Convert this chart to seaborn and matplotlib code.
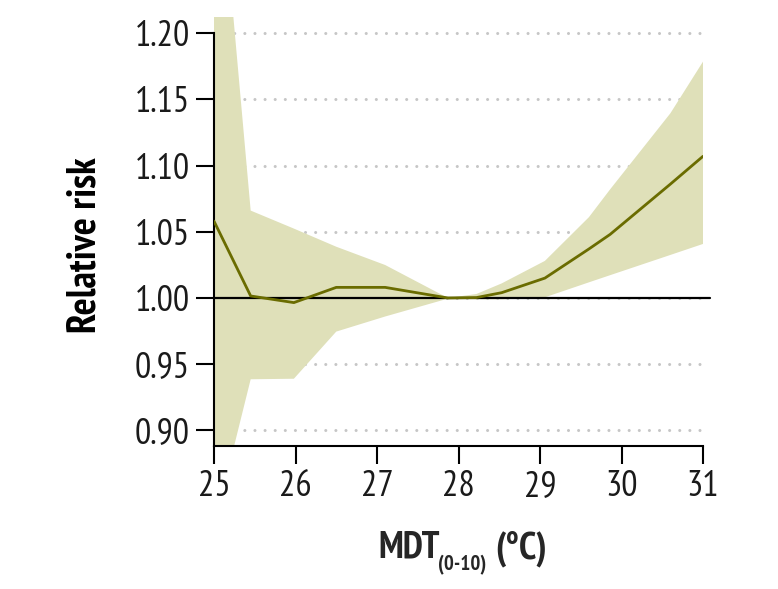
import seaborn as sns
import matplotlib.pyplot as plt
import pandas as pd

# mean daily temperature (lag 0-10) and relative risk with 95% CI
mdt = [25.0, 25.45, 25.98, 26.5, 27.1, 27.87, 28.22, 28.53, 29.06, 29.6, 29.86, 30.6, 31.0]
rr = [1.058, 1.0015, 0.9965, 1.008, 1.008, 1.0, 1.0003, 1.004, 1.015, 1.037, 1.048, 1.086, 1.107]
rr_high = [1.376, 1.066, 1.0524, 1.0387, 1.0249, 1.0, 1.003, 1.011, 1.028, 1.061, 1.082, 1.1395, 1.1785]
rr_low = [0.827, 0.9386, 0.939, 0.9746, 0.986, 0.9995, 0.999, 0.999, 1.0005, 1.0118, 1.0172, 1.0325, 1.0408]

y_ticks = [0.90, 0.95, 1.00, 1.05, 1.10, 1.15, 1.20]
x_ticks = [25, 26, 27, 28, 29, 30, 31]

W, H = 778, 589

if __name__ == "__main__":
    df = pd.DataFrame({"mdt": mdt, "rr": rr, "lo": rr_low, "hi": rr_high})

    sns.set_theme(style="white")
    plt.rcParams["font.family"] = ["PT Sans Narrow", "DejaVu Sans"]

    fig = plt.figure(figsize=(W / 100, H / 100), dpi=100)
    ax = fig.add_axes([214 / W, 1 - 446 / H, (703 - 214) / W, (446 - 17) / H])

    ax.fill_between(df["mdt"], df["lo"], df["hi"], color="#dfe0b9", lw=0, zorder=2)
    sns.lineplot(data=df, x="mdt", y="rr", ax=ax, color="#6a6c00", lw=2, zorder=4)
    ax.axhline(1.0, xmin=0, xmax=1.015, color="black", lw=1.6, zorder=3, clip_on=False)

    ax.set_xlim(25, 31)
    ax.set_ylim(0.8882, 1.2122)
    ax.set_xticks(x_ticks)
    ax.set_yticks(y_ticks)
    ax.set_yticklabels([f"{v:.2f}" for v in y_ticks])

    ax.grid(axis="y", color="#c6c6c6", lw=2.2, linestyle=(0, (0.01, 3.3)),
            dash_capstyle="round", zorder=1)
    ax.set_axisbelow(True)

    for s in ["top", "right"]:
        ax.spines[s].set_visible(False)
    for s in ["left", "bottom"]:
        ax.spines[s].set_color("black")
        ax.spines[s].set_linewidth(1.5)
    ax.spines["left"].set_bounds(0.8882, 1.20)

    ax.tick_params(axis="both", direction="out", length=13, width=1.5, color="black",
                   labelsize=26, labelcolor="#1a1a1a", left=True, bottom=True)
    ax.tick_params(axis="y", pad=4.5)
    ax.tick_params(axis="x", pad=4)
    ax.set_xlabel("")
    ax.set_ylabel("")

    # axis titles
    fig.text(85 / W, 1 - 245 / H, "Relative risk", rotation=90, ha="center", va="center",
             fontsize=29, fontweight="bold", color="black")
    base = 1 - 558 / H
    fig.text(378 / W, base, "MDT", ha="left", va="baseline", fontsize=27, fontweight="bold")
    fig.text(438 / W, 1 - 570 / H, "(0-10)", ha="left", va="baseline", fontsize=15, fontweight="bold")
    fig.text(495 / W, base, "(°C)", ha="left", va="baseline", fontsize=27, fontweight="bold")

    fig.savefig("out.png", dpi=100)
